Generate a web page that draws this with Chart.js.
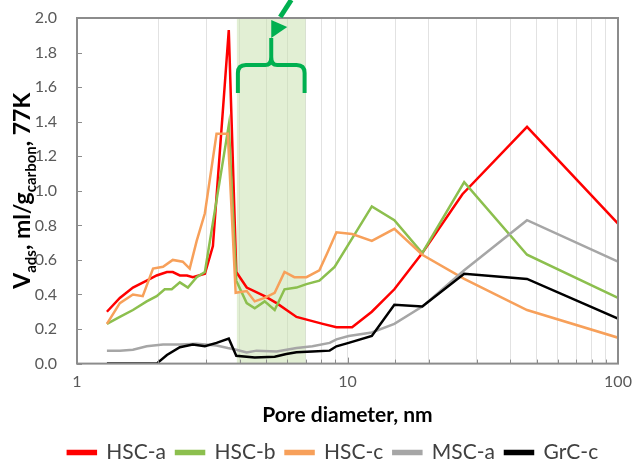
<!DOCTYPE html>
<html>
<head>
<meta charset="utf-8">
<script src="https://cdn.jsdelivr.net/npm/chart.js@4/dist/chart.umd.min.js"></script>
<style>
  html, body { margin: 0; padding: 0; background: #fff; }
  #wrap { width: 635px; height: 468px; }
</style>
</head>
<body>
<div id="wrap"><canvas id="grafico" width="635" height="468"></canvas></div>
<script>
// valores (diâmetro de poro em nm, volume adsorvido)
const hscaX = [1.29, 1.44, 1.61, 1.81, 1.97, 2.15, 2.26, 2.40, 2.55, 2.68, 2.97, 3.18, 3.64, 3.88, 4.24, 4.94, 5.47, 6.48, 7.24, 8.1, 9.1, 10.4, 12.3, 14.9, 18.9, 26.6, 46.1, 100];
const hscaY = [0.30, 0.38, 0.44, 0.48, 0.51, 0.53, 0.53, 0.51, 0.51, 0.50, 0.52, 0.68, 1.93, 0.53, 0.44, 0.39, 0.35, 0.27, 0.25, 0.23, 0.21, 0.21, 0.30, 0.43, 0.64, 0.98, 1.37, 0.81];

const hscbX = [1.29, 1.44, 1.61, 1.81, 1.97, 2.11, 2.24, 2.40, 2.57, 2.77, 2.97, 3.64, 3.88, 4.24, 4.54, 4.94, 5.38, 5.85, 6.48, 7.05, 7.87, 8.96, 12.3, 14.9, 18.9, 27.0, 46.1, 100];
const hscbY = [0.23, 0.27, 0.31, 0.36, 0.39, 0.43, 0.43, 0.47, 0.44, 0.50, 0.53, 1.38, 0.48, 0.35, 0.32, 0.36, 0.31, 0.43, 0.44, 0.46, 0.48, 0.56, 0.91, 0.83, 0.64, 1.05, 0.63, 0.38];

const hsccX = [1.29, 1.44, 1.61, 1.75, 1.91, 2.08, 2.26, 2.46, 2.61, 2.77, 2.97, 3.28, 3.61, 3.86, 4.24, 4.54, 4.94, 5.38, 5.85, 6.36, 7.05, 7.87, 8.42, 9.1, 10.4, 12.3, 14.9, 18.9, 27.0, 46.1, 100];
const hsccY = [0.23, 0.35, 0.40, 0.39, 0.55, 0.56, 0.60, 0.59, 0.55, 0.71, 0.87, 1.33, 1.33, 0.41, 0.42, 0.36, 0.38, 0.41, 0.53, 0.50, 0.50, 0.54, 0.64, 0.76, 0.75, 0.71, 0.78, 0.63, 0.49, 0.31, 0.15];

const mscaX = [1.29, 1.44, 1.61, 1.81, 2.08, 2.40, 2.77, 3.28, 3.61, 3.88, 4.24, 4.61, 5.47, 6.48, 7.42, 8.59, 9.1, 10.1, 12.3, 14.9, 18.9, 27.0, 46.1, 100];
const mscaY = [0.075, 0.075, 0.08, 0.10, 0.11, 0.11, 0.115, 0.105, 0.09, 0.08, 0.065, 0.075, 0.07, 0.09, 0.10, 0.12, 0.14, 0.16, 0.18, 0.23, 0.33, 0.54, 0.83, 0.59];

const grccX = [1.29, 1.97, 2.15, 2.40, 2.68, 2.97, 3.28, 3.64, 3.88, 4.54, 5.38, 5.94, 6.48, 7.42, 8.59, 9.1, 10.1, 12.3, 14.9, 18.9, 27.0, 46.1, 100];
const grccY = [0.0, 0.0, 0.05, 0.095, 0.11, 0.10, 0.12, 0.145, 0.045, 0.035, 0.04, 0.055, 0.065, 0.07, 0.075, 0.10, 0.12, 0.16, 0.34, 0.33, 0.52, 0.49, 0.26];

const nomesSeries = ['HSC-a', 'HSC-b', 'HSC-c', 'MSC-a', 'GrC-c'];
const coresSeries = ['#FF0000', '#8CBF4E', '#F7A05A', '#A6A6A6', '#000000'];
const faixaMeso = [3.9, 7.0];   // região destacada em verde
const yTicks = [0, 0.2, 0.4, 0.6, 0.8, 1.0, 1.2, 1.4, 1.6, 1.8, 2.0];

const FONTE = 'Lato, "Open Sans", sans-serif';

function pontos(xs, ys) {
  return xs.map((x, i) => ({ x: x, y: ys[i] }));
}

const seriesX = [hscaX, hscbX, hsccX, mscaX, grccX];
const seriesY = [hscaY, hscbY, hsccY, mscaY, grccY];

const datasets = nomesSeries.map((nome, i) => ({
  label: nome,
  data: pontos(seriesX[i], seriesY[i]),
  borderColor: coresSeries[i],
  backgroundColor: coresSeries[i],
  borderWidth: 2.5,
  pointRadius: 0,
  tension: 0,
  order: nomesSeries.length - i,
}));

// faixa verde, chave e seta
const pluginFaixa = {
  id: 'faixa',
  beforeDatasetsDraw(chart) {
    const { ctx, chartArea, scales } = chart;
    const x1 = scales.x.getPixelForValue(faixaMeso[0]);
    const x2 = scales.x.getPixelForValue(faixaMeso[1]);
    ctx.save();
    ctx.fillStyle = 'rgba(198, 224, 170, 0.5)';
    ctx.fillRect(x1, chartArea.top, x2 - x1, chartArea.bottom - chartArea.top);
    ctx.restore();
  },
  afterDraw(chart) {
    const { ctx, chartArea, scales } = chart;
    const x1 = scales.x.getPixelForValue(faixaMeso[0]);
    const x2 = scales.x.getPixelForValue(faixaMeso[1]);
    const xm = (x1 + x2) / 2;
    const yTopo = chartArea.top;
    const yLinha = yTopo + 47;
    const yPonta = yTopo + 75;
    ctx.save();
    ctx.strokeStyle = '#00B050';
    ctx.fillStyle = '#00B050';
    ctx.lineWidth = 4;
    ctx.lineCap = 'butt';
    ctx.beginPath();
    ctx.moveTo(x1 + 1, yPonta);
    ctx.lineTo(x1 + 1, yLinha + 8);
    ctx.quadraticCurveTo(x1 + 1, yLinha, x1 + 9, yLinha);
    ctx.lineTo(xm - 6, yLinha);
    ctx.quadraticCurveTo(xm, yLinha, xm, yLinha - 8);
    ctx.lineTo(xm, yTopo + 20);
    ctx.moveTo(xm, yLinha - 8);
    ctx.quadraticCurveTo(xm, yLinha, xm + 6, yLinha);
    ctx.lineTo(x2 - 9, yLinha);
    ctx.quadraticCurveTo(x2 - 1, yLinha, x2 - 1, yLinha + 8);
    ctx.lineTo(x2 - 1, yPonta);
    ctx.stroke();
    // triângulo
    ctx.beginPath();
    ctx.moveTo(xm, yTopo + 2);
    ctx.lineTo(xm, yTopo + 20);
    ctx.lineTo(xm + 16, yTopo + 9);
    ctx.closePath();
    ctx.fill();
    // traço inclinado
    ctx.lineWidth = 5;
    ctx.beginPath();
    ctx.moveTo(xm + 9, yTopo - 1);
    ctx.lineTo(xm + 20, yTopo - 18);
    ctx.stroke();
    ctx.restore();
  },
};

// moldura, tracinhos internos e título do eixo y com subscritos
const pluginMoldura = {
  id: 'moldura',
  afterLayout(chart) {
    // no original a legenda fica um pouco à direita do centro
    chart.legend.left += 24;
    chart.legend.right += 24;
  },
  afterDatasetsDraw(chart) {
    const { ctx, chartArea, scales } = chart;
    ctx.save();
    ctx.strokeStyle = '#8C8C8C';
    ctx.lineWidth = 1;
    // tracinhos no eixo x
    scales.x.ticks.forEach(t => {
      const px = Math.round(scales.x.getPixelForValue(t.value)) + 0.5;
      const maior = Math.abs(Math.log10(t.value) - Math.round(Math.log10(t.value))) < 1e-6;
      ctx.beginPath();
      ctx.moveTo(px, chartArea.bottom);
      ctx.lineTo(px, chartArea.bottom - (maior ? 6 : 4));
      ctx.stroke();
    });
    // tracinhos no eixo y
    yTicks.forEach(v => {
      const py = Math.round(scales.y.getPixelForValue(v)) + 0.5;
      ctx.beginPath();
      ctx.moveTo(chartArea.left, py);
      ctx.lineTo(chartArea.left + 5, py);
      ctx.stroke();
    });
    ctx.lineWidth = 2;
    ctx.strokeRect(chartArea.left, chartArea.top, chartArea.right - chartArea.left, chartArea.bottom - chartArea.top);
    ctx.restore();
  },
  afterDraw(chart) {
    const { ctx, chartArea } = chart;
    const partes = [
      { t: 'V', f: 'bold 23px ' + FONTE, dy: 0 },
      { t: 'ads', f: 'bold 15px ' + FONTE, dy: 6 },
      { t: ', ml/g', f: 'bold 23px ' + FONTE, dy: 0 },
      { t: 'carbon', f: 'bold 15px ' + FONTE, dy: 6 },
      { t: ', 77K', f: 'bold 23px ' + FONTE, dy: 0 },
    ];
    ctx.save();
    let total = 0;
    partes.forEach(p => { ctx.font = p.f; total += ctx.measureText(p.t).width; });
    ctx.translate(30, (chartArea.top + chartArea.bottom) / 2);
    ctx.rotate(-Math.PI / 2);
    ctx.fillStyle = '#000';
    ctx.textBaseline = 'alphabetic';
    let x = -total / 2;
    partes.forEach(p => {
      ctx.font = p.f;
      ctx.fillText(p.t, x, p.dy);
      x += ctx.measureText(p.t).width;
    });
    ctx.restore();
  },
};

const grafico = new Chart(document.getElementById('grafico').getContext('2d'), {
  type: 'line',
  data: { datasets: datasets },
  options: {
    responsive: false,
    animation: false,
    layout: { padding: { top: 18, right: 17, left: 0, bottom: -5 } },
    scales: {
      x: {
        type: 'logarithmic',
        min: 1,
        max: 100,
        afterFit: (scale) => { scale.paddingLeft = 0; scale.paddingRight = 0; },
        grid: { display: true, color: '#E2E2E2', lineWidth: 1, drawTicks: false },
        border: { display: false },
        ticks: {
          autoSkip: false,
          maxRotation: 0,
          padding: 9,
          color: '#595959',
          font: { family: FONTE, size: 16 },
          callback: function (v) {
            const l = Math.log10(v);
            return Math.abs(l - Math.round(l)) < 1e-6 ? String(v) : '';
          },
        },
        title: {
          display: true,
          text: 'Pore diameter, nm',
          color: '#000',
          font: { family: FONTE, size: 21, weight: 'bold' },
          padding: { top: 2, bottom: 4 },
        },
      },
      y: {
        min: 0,
        max: 2.0,
        afterFit: (scale) => { scale.width = 77; scale.paddingTop = 0; scale.paddingBottom = 0; },
        afterBuildTicks: (scale) => { scale.ticks = yTicks.map(v => ({ value: v })); },
        grid: { display: false },
        border: { display: false },
        ticks: {
          padding: 12,
          color: '#595959',
          font: { family: FONTE, size: 16 },
          callback: (v) => v.toFixed(1),
        },
      },
    },
    plugins: {
      legend: {
        position: 'bottom',
        labels: {
          boxWidth: 28,
          boxHeight: 3,
          padding: 10,
          color: '#404040',
          font: { family: FONTE, size: 21 },
          sort: (a, b) => a.datasetIndex - b.datasetIndex,
        },
      },
      tooltip: { enabled: false },
    },
  },
  plugins: [pluginFaixa, pluginMoldura],
});
</script>
</body>
</html>
